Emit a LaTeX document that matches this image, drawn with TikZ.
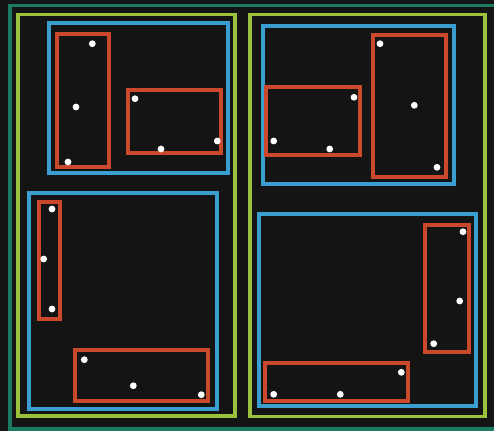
\documentclass[tikz,border=0pt]{standalone}
\begin{document}
\begin{tikzpicture}[x=1pt,y=-1pt,
  teal/.style={draw=tealc,line width=3.6pt},
  grn/.style={draw=grnc,line width=3.6pt},
  blu/.style={draw=bluc,line width=3.8pt},
  rd/.style={draw=redc,line width=3.8pt},
  pt/.style={circle,fill=white,inner sep=0pt,minimum size=6.8pt}]
\definecolor{bgc}{RGB}{20,20,20}
\definecolor{tealc}{RGB}{27,122,96}
\definecolor{grnc}{RGB}{155,193,60}
\definecolor{bluc}{RGB}{58,158,208}
\definecolor{redc}{RGB}{202,72,44}
\fill[bgc] (0,0) rectangle (494,431);
\useasboundingbox (0,0) rectangle (494,431);
\begin{scope}
\clip (0,0) rectangle (494,431);
\draw[teal] (10,5.5) rectangle (505,429);
\end{scope}
% green groups
\draw[grn] (17.7,14.5) rectangle (235,416);
\draw[grn] (250,14.5) rectangle (485,416.5);
% blue groups
\draw[blu] (49.3,23.3) rectangle (228,173);
\draw[blu] (29.3,193.3) rectangle (217.3,409);
\draw[blu] (262.7,26) rectangle (454,184);
\draw[blu] (258.7,214) rectangle (476,406.3);
% red boxes
\draw[rd] (57.3,34.3) rectangle (109.3,166.7);
\draw[rd] (127.7,90.3) rectangle (220.7,153.3);
\draw[rd] (39,202) rectangle (60.3,319);
\draw[rd] (75.3,349.7) rectangle (208,401.3);
\draw[rd] (266,86.7) rectangle (360,155.3);
\draw[rd] (373,34.7) rectangle (446,176.7);
\draw[rd] (425,225) rectangle (469.3,352.3);
\draw[rd] (264.7,363.3) rectangle (408,401);
% points
\node[pt] (p1) at (92.3,43.7) {};
\node[pt] (p2) at (76,107) {};
\node[pt] (p3) at (68,162) {};
\node[pt] (p4) at (135,98.7) {};
\node[pt] (p5) at (161,149) {};
\node[pt] (p6) at (217.3,141) {};
\node[pt] (p7) at (52,209) {};
\node[pt] (p8) at (43.7,259) {};
\node[pt] (p9) at (52,309) {};
\node[pt] (p10) at (84.3,359.7) {};
\node[pt] (p11) at (133.3,385.7) {};
\node[pt] (p12) at (201.3,394.7) {};
\node[pt] (p13) at (354,97.3) {};
\node[pt] (p14) at (273.7,141) {};
\node[pt] (p15) at (329.7,149) {};
\node[pt] (p16) at (380,43.7) {};
\node[pt] (p17) at (414.3,105.3) {};
\node[pt] (p18) at (437,167.3) {};
\node[pt] (p19) at (463,231.7) {};
\node[pt] (p20) at (459.7,301) {};
\node[pt] (p21) at (433.7,343.7) {};
\node[pt] (p22) at (273.7,394.3) {};
\node[pt] (p23) at (340.3,394.3) {};
\node[pt] (p24) at (401.3,372.3) {};
\end{tikzpicture}
\end{document}
